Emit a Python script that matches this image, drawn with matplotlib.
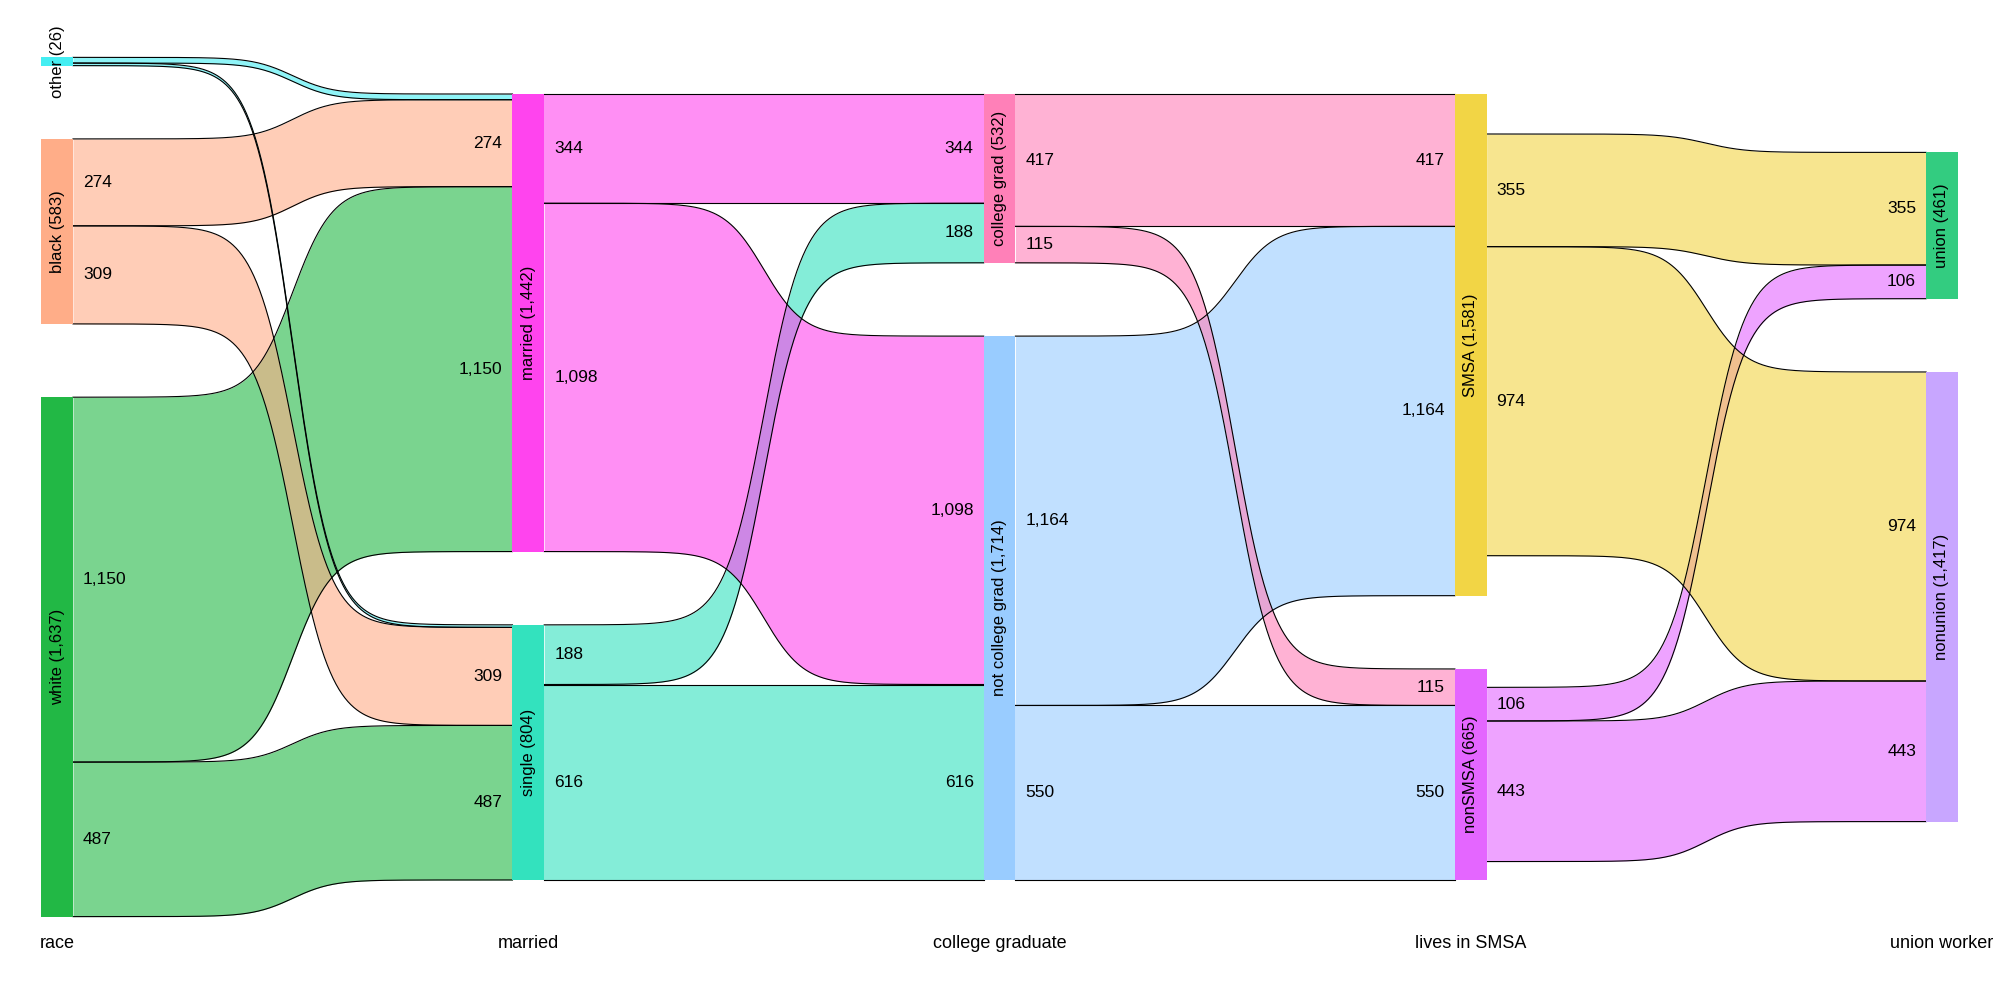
import numpy as np
import matplotlib.pyplot as plt
from matplotlib.patches import Rectangle

column_titles = ['race', 'married', 'college graduate', 'lives in SMSA', 'union worker']

race_nodes = ['other', 'black', 'white']
race_counts = [26, 583, 1637]
married_nodes = ['married', 'single']
married_counts = [1442, 804]
college_nodes = ['college grad', 'not college grad']
college_counts = [532, 1714]
smsa_nodes = ['SMSA', 'nonSMSA']
smsa_counts = [1581, 665]
union_nodes = ['union', 'nonunion']
union_counts = [461, 1417]

# rows = source node, columns = target node
race_to_married = [[18, 8], [274, 309], [1150, 487]]
married_to_college = [[344, 1098], [188, 616]]
college_to_smsa = [[417, 115], [1164, 550]]
smsa_to_union = [[355, 974], [106, 443]]

race_colors = ['#44EEF2', '#FFAD88', '#22B845']
married_colors = ['#FF44EE', '#33E2BE']
college_colors = ['#FF80B8', '#99CCFF']
smsa_colors = ['#F2D545', '#E466FF']
union_colors = ['#33CC80', '#C8A6FF']

GAP = 231          # vertical gap between nodes, in counts
NODE_W = 0.0673    # node width, in column units
PAD = 0.0212       # distance of flow labels from the node


def node_tops(counts):
    total = sum(counts) + GAP * (len(counts) - 1)
    tops = []
    y = -total / 2
    for c in counts:
        tops.append(y)
        y += c + GAP
    return tops


def sigmoid(u, k=22):
    f = 1 / (1 + np.exp(-k * (u - 0.5)))
    f0 = 1 / (1 + np.exp(k * 0.5))
    f1 = 1 / (1 + np.exp(-k * 0.5))
    return (f - f0) / (f1 - f0)


def draw_flows(ax, i, src_counts, tgt_counts, matrix, colors):
    m = np.array(matrix)
    src_top = node_tops(src_counts)
    tgt_top = node_tops(tgt_counts)
    out_tot = m.sum(axis=1)
    in_tot = m.sum(axis=0)
    # flows are centred on a node when they do not fill it
    src_start = [t + (c - o) / 2 for t, c, o in zip(src_top, src_counts, out_tot)]
    tgt_start = [t + (c - o) / 2 for t, c, o in zip(tgt_top, tgt_counts, in_tot)]

    x0 = i + NODE_W
    x1 = i + 1
    xs = np.linspace(x0, x1, 300)
    s_curve = sigmoid((xs - x0) / (x1 - x0))

    # drawn target by target, so later targets sit on top at crossings
    for t in range(m.shape[1]):
        for s in range(m.shape[0]):
            v = m[s, t]
            y0 = src_start[s] + m[s, :t].sum()
            y1 = tgt_start[t] + m[:s, t].sum()
            top = y0 + (y1 - y0) * s_curve
            bot = top + v
            ax.fill_between(xs, top, bot, color=colors[s], alpha=0.6, lw=0)
            ax.plot(xs, top, color='black', lw=0.8)
            ax.plot(xs, bot, color='black', lw=0.8)
            if v >= 50:
                ax.text(x0 + PAD, y0 + v / 2, f'{v:,}', ha='left', va='center',
                        fontsize=12.5, zorder=6)
                ax.text(x1 - PAD, y1 + v / 2, f'{v:,}', ha='right', va='center',
                        fontsize=12.5, zorder=6)


def draw_nodes(ax, i, names, counts, colors):
    for name, c, top, col in zip(names, counts, node_tops(counts), colors):
        ax.add_patch(Rectangle((i, top), NODE_W, c, facecolor=col, edgecolor='none', zorder=5))
        ax.text(i + NODE_W / 2, top + c / 2, f'{name} ({c:,})', rotation=90,
                ha='center', va='center', fontsize=12, zorder=6)


plt.rcParams['font.family'] = ['Liberation Sans', 'DejaVu Sans']
fig = plt.figure(figsize=(20, 10), dpi=100)
ax = fig.add_axes([0, 0, 1, 1])

columns = [
    (race_nodes, race_counts, race_colors),
    (married_nodes, married_counts, married_colors),
    (college_nodes, college_counts, college_colors),
    (smsa_nodes, smsa_counts, smsa_colors),
    (union_nodes, union_counts, union_colors),
]
links = [race_to_married, married_to_college, college_to_smsa, smsa_to_union]

for i, matrix in enumerate(links):
    draw_flows(ax, i, columns[i][1], columns[i + 1][1], matrix, columns[i][2])

for i, (names, counts, colors) in enumerate(columns):
    draw_nodes(ax, i, names, counts, colors)
    ax.text(i + NODE_W / 2, 1440, column_titles[i], ha='center', va='center', fontsize=13)

ax.set_xlim(-0.0876, 4.1568)
ax.set_ylim(1616.8, -1534.8)
ax.axis('off')

fig.savefig('out.png', dpi=100, facecolor='white')
